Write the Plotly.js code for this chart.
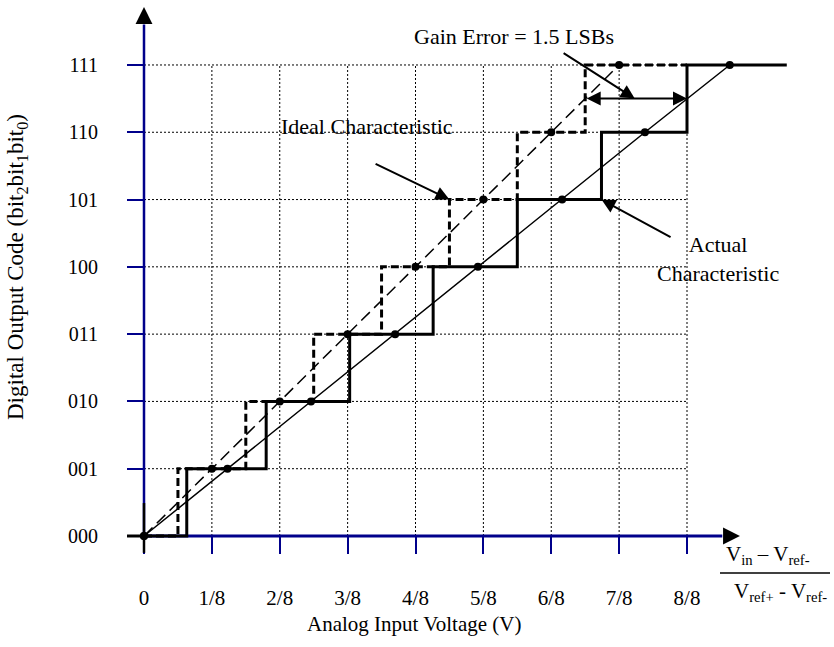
<!DOCTYPE html>
<html>
<head>
<meta charset="utf-8">
<script src="https://cdn.plot.ly/plotly-3.0.1.min.js"></script>
<style>html,body{margin:0;padding:0;background:#fff;}#chart{width:834px;height:647px;}</style>
</head>
<body>
<div id="chart"></div>
<script>
// ---- data ----
const codeLabels = ['000','001','010','011','100','101','110','111'];
const codeLevels = [0,1,2,3,4,5,6,7];
const xTickVals = [0,1,2,3,4,5,6,7,8];
const xTickText = ['0','1/8','2/8','3/8','4/8','5/8','6/8','7/8','8/8'];

// ideal characteristic (transitions at half LSBs)
const idealStepX = [0,0.5,1.5,2.5,3.5,4.5,5.5,6.5,8];
const idealStepY = [0,1,2,3,4,5,6,7,7];
const idealDotX = [0,1,2,3,4,5,6,7];
const idealDotY = [0,1,2,3,4,5,6,7];

// actual characteristic (gain error)
const actualStepX = [0,0.63,1.80,3.03,4.26,5.50,6.74,8.0,9.47];
const actualStepY = [0,1,2,3,4,5,6,7,7];
const actualDotX = [0,1.23,2.46,3.70,4.92,6.16,7.38,8.63];
const actualDotY = [0,1,2,3,4,5,6,7];

// ---- styling ----
const NAVY = '#00008b';
const FONT = 'Liberation Serif, Times New Roman, serif';

const traces = [
  {x: idealDotX, y: idealDotY, mode: 'lines', line: {color: '#000', width: 1.5, dash: '12px,6px'}, hoverinfo: 'skip'},
  {x: actualDotX, y: actualDotY, mode: 'lines', line: {color: '#000', width: 1.5}, hoverinfo: 'skip'},
  {x: idealStepX, y: idealStepY, mode: 'lines', line: {color: '#000', width: 3, shape: 'hv', dash: '8px,4px'}, hoverinfo: 'skip'},
  {x: actualStepX, y: actualStepY, mode: 'lines', line: {color: '#000', width: 3, shape: 'hv'}, hoverinfo: 'skip'},
  {x: idealDotX, y: idealDotY, mode: 'markers', marker: {color: '#000', size: 8}, hoverinfo: 'skip'},
  {x: actualDotX, y: actualDotY, mode: 'markers', marker: {color: '#000', size: 8}, hoverinfo: 'skip'}
];

const xMax = xTickVals[xTickVals.length - 1];
const yMax = codeLevels[codeLevels.length - 1];
const shapes = [];
// dotted grid
xTickVals.slice(1).forEach(v => shapes.push({type: 'line', layer: 'below', xref: 'x', yref: 'y', x0: v, x1: v, y0: 0, y1: yMax, line: {color: '#000', width: 1, dash: '2px,2px'}}));
codeLevels.slice(1).forEach(v => shapes.push({type: 'line', layer: 'below', xref: 'x', yref: 'y', x0: 0, x1: xMax, y0: v, y1: v, line: {color: '#000', width: 1, dash: '2px,2px'}}));
// axis lines
shapes.push({type: 'line', layer: 'below', xref: 'x', yref: 'y', x0: 0, x1: 0, y0: 0, y1: 7.6, line: {color: NAVY, width: 2.5}});
shapes.push({type: 'line', layer: 'below', xref: 'x', yref: 'y', x0: 0, x1: 8.52, y0: 0, y1: 0, line: {color: NAVY, width: 3}});
// black cross at origin
shapes.push({type: 'line', layer: 'above', xref: 'x', yref: 'y', x0: 0, x1: 0, y0: -0.25, y1: 0.49, line: {color: '#000', width: 2.5}});
shapes.push({type: 'line', layer: 'above', xref: 'x', yref: 'y', x0: -0.25, x1: 0, y0: 0, y1: 0, line: {color: '#000', width: 3}});
// fraction bar
shapes.push({type: 'line', xref: 'paper', yref: 'paper', x0: 720/834, x1: 830/834, y0: (647-573)/647, y1: (647-573)/647, line: {color: '#000', width: 1.5}});

function arrow(tipX, tipY, tailX, tailY, extra) {
  return Object.assign({
    x: tipX, y: tipY, xref: 'x', yref: 'y',
    ax: tailX, ay: tailY, axref: 'x', ayref: 'y',
    text: '', showarrow: true, arrowhead: 2, arrowsize: 1.4, arrowwidth: 2,
    arrowcolor: '#000', standoff: 0, startstandoff: 0, font: {size: 2}
  }, extra || {});
}

function label(x, y, text, size, extra) {
  return Object.assign({
    x: x, y: y, xref: 'paper', yref: 'paper', xanchor: 'center', yanchor: 'middle',
    text: text, showarrow: false, font: {family: FONT, size: size, color: '#000'}
  }, extra || {});
}

const annotations = [
  // axis arrowheads
  {x: 0, y: 7.86, xref: 'x', yref: 'y', ax: 0, ay: 16, text: '', showarrow: true, arrowhead: 2, arrowsize: 1.3, arrowwidth: 2.6, arrowcolor: '#000', standoff: 0, font: {size: 2}},
  {x: 8.78, y: 0, xref: 'x', yref: 'y', ax: -16, ay: 0, text: '', showarrow: true, arrowhead: 2, arrowsize: 1.3, arrowwidth: 2.6, arrowcolor: '#000', standoff: 0, font: {size: 2}},
  // pointer arrows
  arrow(7.23, 6.5, 6.16, 7.19),
  arrow(8.0, 6.5, 6.5, 6.5, {arrowside: 'end+start', startarrowhead: 2, startarrowsize: 1.4}),
  arrow(4.5, 5, 3.39, 5.54),
  arrow(6.74, 5, 7.78, 4.43),
  // texts
  {x: 5.45, y: 7.42, xref: 'x', yref: 'y', xanchor: 'center', yanchor: 'middle', text: 'Gain Error = 1.5 LSBs', showarrow: false, font: {family: FONT, size: 22, color: '#000'}},
  {x: 3.285, y: 6.08, xref: 'x', yref: 'y', xanchor: 'center', yanchor: 'middle', text: 'Ideal Characteristic', showarrow: false, font: {family: FONT, size: 22, color: '#000'}},
  {x: 8.46, y: 4.12, xref: 'x', yref: 'y', xanchor: 'center', yanchor: 'middle', text: 'Actual<br>Characteristic', showarrow: false, align: 'center', font: {family: FONT, size: 22, color: '#000'}},
  // axis titles
  label(414/834, (647-624)/647, 'Analog Input Voltage (V)', 21),
  label(17/834, (647-267)/647, 'Digital Output Code (bit<sub>2</sub>bit<sub>1</sub>bit<sub>0</sub>)', 23, {textangle: -90}),
  // fraction label
  label(768/834, (647-555)/647, 'V<sub>in</sub> – V<sub>ref-</sub>', 21),
  label(780/834, (647-592)/647, 'V<sub>ref+</sub> - V<sub>ref-</sub>', 21)
];

const pxPerX = 67.875, pxPerY = 67.29;
const layout = {
  width: 834, height: 647,
  margin: {l: 0, r: 0, t: 0, b: 0},
  paper_bgcolor: '#fff', plot_bgcolor: '#fff',
  showlegend: false,
  xaxis: {
    range: [-144/pxPerX, (834-144)/pxPerX],
    anchor: 'free', position: (647-536)/647,
    showgrid: false, zeroline: false, showline: false,
    tickmode: 'array', tickvals: xTickVals, ticktext: xTickText,
    ticks: 'outside', ticklen: 17, tickwidth: 2, tickcolor: NAVY,
    ticklabelstandoff: 26,
    tickfont: {family: FONT, size: 21, color: '#000'},
    fixedrange: true
  },
  yaxis: {
    range: [-(647-536)/pxPerY, 536/pxPerY],
    anchor: 'free', position: 144/834,
    showgrid: false, zeroline: false, showline: false,
    tickmode: 'array', tickvals: codeLevels, ticktext: codeLabels,
    ticks: 'outside', ticklen: 17, tickwidth: 2, tickcolor: NAVY,
    ticklabelstandoff: 25,
    tickfont: {family: FONT, size: 20, color: '#000'},
    fixedrange: true
  },
  shapes: shapes,
  annotations: annotations
};

Plotly.newPlot('chart', traces, layout, {displayModeBar: false, staticPlot: true});
</script>
</body>
</html>
